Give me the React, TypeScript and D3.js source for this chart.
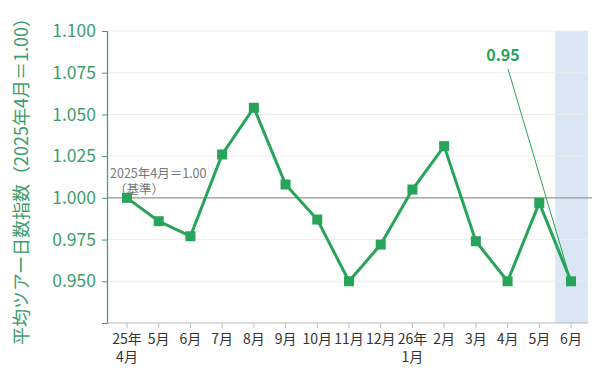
import React, { useEffect, useRef } from 'react';
import * as d3 from 'd3';

const months = ['25年\n4月', '5月', '6月', '7月', '8月', '9月', '10月', '11月', '12月', '26年\n1月', '2月', '3月', '4月', '5月', '6月'];
const values = [1.0, 0.986, 0.977, 1.026, 1.054, 1.008, 0.987, 0.950, 0.972, 1.005, 1.031, 0.974, 0.950, 0.997, 0.950];
const yTicks = [0.95, 0.975, 1.0, 1.025, 1.05, 1.075, 1.1];

const green = '#27a35a';
const axisGreen = '#3d9d6c';
const font = '"Noto Sans CJK JP", "Noto Sans", sans-serif';

const App: React.FC = () => {
    const ref = useRef<SVGSVGElement>(null);
    const width = 600;
    const height = 377;

    useEffect(() => {
        const svg = d3.select(ref.current);
        svg.selectAll('*').remove();

        const left = 107;
        const right = 588;
        const top = 31;
        const bottom = 323;

        const x = d3.scalePoint<number>()
            .domain(d3.range(months.length))
            .range([127, 571]);
        const y = d3.scaleLinear().domain([0.925, 1.1]).range([bottom, top]);

        // highlighted last month
        const step = x.step();
        svg.append('rect')
            .attr('x', x(months.length - 1)! - step / 2)
            .attr('y', top)
            .attr('width', step + 1)
            .attr('height', bottom - top)
            .attr('fill', '#dae6f4');

        // grid
        svg.append('g')
            .selectAll('line')
            .data(yTicks)
            .enter()
            .append('line')
            .attr('x1', left)
            .attr('x2', right)
            .attr('y1', d => y(d))
            .attr('y2', d => y(d))
            .attr('stroke', '#ececec')
            .attr('stroke-width', 1);

        // base line at 1.00
        svg.append('line')
            .attr('x1', left)
            .attr('x2', right + 4)
            .attr('y1', y(1))
            .attr('y2', y(1))
            .attr('stroke', '#999')
            .attr('stroke-width', 1.2);

        // y axis
        const yAxis = svg.append('g')
            .attr('transform', `translate(${left},0)`)
            .call(d3.axisLeft(y).tickValues(yTicks).tickFormat(d3.format('.3f')).tickSize(5).tickPadding(6));
        yAxis.select('.domain').attr('stroke', axisGreen).attr('stroke-width', 1.2);
        yAxis.selectAll('.tick line').attr('stroke', axisGreen);
        yAxis.selectAll('.tick text')
            .attr('fill', axisGreen)
            .style('font-size', '17.5px')
            .style('font-family', font);

        // x axis
        const xAxisG = svg.append('g').attr('transform', `translate(0,${bottom})`);
        xAxisG.append('line')
            .attr('x1', left)
            .attr('x2', right)
            .attr('stroke', '#bbb');
        const ticks = xAxisG.selectAll('.tick')
            .data(months)
            .enter()
            .append('g')
            .attr('transform', (d, i) => `translate(${x(i)},0)`);
        ticks.append('line').attr('y2', 5).attr('stroke', '#bbb');
        ticks.each(function (d) {
            const lines = d.split('\n');
            lines.forEach((l, k) => {
                d3.select(this).append('text')
                    .attr('text-anchor', 'middle')
                    .attr('fill', '#333')
                    .attr('y', 21 + k * 18)
                    .style('font-size', '14px')
                    .style('font-family', font)
                    .text(l);
            });
        });

        // y axis title
        svg.append('text')
            .attr('transform', `translate(28,${(top + bottom) / 2}) rotate(-90)`)
            .attr('text-anchor', 'middle')
            .attr('fill', axisGreen)
            .style('font-size', '18px')
            .style('font-family', font)
            .text('平均ツアー日数指数（2025年4月＝1.00）');

        // base note
        svg.append('text')
            .attr('x', 110)
            .attr('y', y(1) - 20)
            .attr('fill', '#777')
            .style('font-size', '12.5px')
            .style('font-family', font)
            .text('2025年4月＝1.00');
        svg.append('text')
            .attr('x', 114)
            .attr('y', y(1) - 4)
            .attr('fill', '#777')
            .style('font-size', '12.5px')
            .style('font-family', font)
            .text('（基準）');

        // line
        const line = d3.line<number>()
            .x((d, i) => x(i)!)
            .y(d => y(d));
        svg.append('path')
            .datum(values)
            .attr('d', line)
            .attr('fill', 'none')
            .attr('stroke', green)
            .attr('stroke-width', 3);

        svg.append('g')
            .selectAll('rect')
            .data(values)
            .enter()
            .append('rect')
            .attr('x', (d, i) => x(i)! - 5)
            .attr('y', d => y(d) - 5)
            .attr('width', 10)
            .attr('height', 10)
            .attr('fill', green);

        // annotation
        const last = values.length - 1;
        svg.append('line')
            .attr('x1', 508)
            .attr('y1', 69)
            .attr('x2', x(last)!)
            .attr('y2', y(values[last]))
            .attr('stroke', green)
            .attr('stroke-width', 1);
        svg.append('text')
            .attr('x', 503)
            .attr('y', 61)
            .attr('text-anchor', 'middle')
            .attr('fill', green)
            .style('font-size', '16px')
            .style('font-weight', 'bold')
            .style('font-family', font)
            .text(d3.format('.2f')(values[last]));
    }, []);

    return <svg ref={ref} width={width} height={height} style={{ position: 'absolute', left: 0, top: 0, background: '#fff' }}></svg>;
};

export default App;
